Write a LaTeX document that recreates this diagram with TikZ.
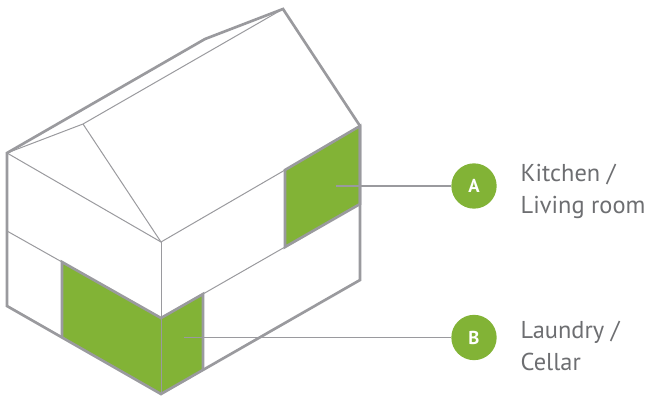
\documentclass[tikz,border=0pt]{standalone}
\usepackage{fontspec}
\setmainfont{PT Sans}
\usetikzlibrary{positioning}
\definecolor{roomgreen}{HTML}{82B336}
\definecolor{wallgray}{HTML}{9A9A9E}
\definecolor{labelgray}{HTML}{6D6E71}
\tikzset{
  wall thin/.style={
    draw=wallgray, line width=0.75pt
  },
  wall thick/.style={
    draw=wallgray, line width=2pt, line join=miter
  },
  room area/.style={
    fill=roomgreen
  },
  room badge/.style={
    circle, fill=roomgreen, minimum size=34pt, inner sep=0pt,
    text=white, font=\bfseries\fontsize{14}{16}\selectfont
  },
  room label/.style={
    text=labelgray, align=left, inner sep=0pt,
    font=\fontsize{18.3}{24}\selectfont
  },
  lead line/.style={
    draw=wallgray, line width=0.9pt
  }
}
\begin{document}
\begin{tikzpicture}[x=0.75pt, y=-0.75pt, node distance=0.4cm and 0.62cm]
  \useasboundingbox (0,0) rectangle (648,399);

  % house corners
  \coordinate (peak) at (283,9);
  \coordinate (bend) at (205,39);
  \coordinate (hip) at (83,124);
  \coordinate (eaveL) at (7,153);
  \coordinate (eaveR) at (360,126);
  \coordinate (eaveC) at (161,242);
  \coordinate (midL) at (7,231);
  \coordinate (midR) at (360,204);
  \coordinate (midC) at (161,318);
  \coordinate (footL) at (7,306);
  \coordinate (footR) at (360,280);
  \coordinate (footC) at (161,394);

  % room corners
  \coordinate (a1) at (285,170);
  \coordinate (a2) at (285,247);
  \coordinate (b1) at (62,262);
  \coordinate (b2) at (62,338);
  \coordinate (b3) at (203,294);
  \coordinate (b4) at (203,370);

  \fill [room area] (a1) -- (eaveR) -- (midR) -- (a2) -- cycle;
  \fill [room area] (b1) -- (midC) -- (b3) -- (b4) -- (footC) -- (b2) -- cycle;

  \draw [wall thin] (eaveL) -- (hip) -- (peak);
  \draw [wall thin] (hip) -- (eaveC);
  \draw [wall thin] (eaveL) -- (eaveC) -- (a1);
  \draw [wall thin] (eaveC) -- (footC);
  \draw [wall thin] (midL) -- (b1);
  \draw [wall thin] (b3) -- (a2);

  \draw [wall thick] (a2) -- (a1) -- (eaveR) -- (midR) -- cycle;
  \draw [wall thick] (b2) -- (b1) -- (midC) -- (b3) -- (b4);
  \draw [wall thick] (eaveL) -- (bend) -- (peak) -- (eaveR) -- (footR) -- (footC) -- (footL) -- cycle;

  % badges and labels
  \node (roomA) [room badge] at (474,186) {A};
  \node (roomB) [room badge] at (474,337.5) {B};
  \node (textA) [room label, right=of roomA, yshift=-4.4pt] {Kitchen /\\Living room};
  \node (textB) [room label, right=of roomB, yshift=-6.2pt] {Laundry /\\Cellar};

  \coordinate (pinA) at (336,186);
  \coordinate (pinB) at (184,337.5);
  \draw [lead line] (pinA) -- (roomA);
  \draw [lead line] (pinB) -- (roomB);
\end{tikzpicture}
\end{document}
